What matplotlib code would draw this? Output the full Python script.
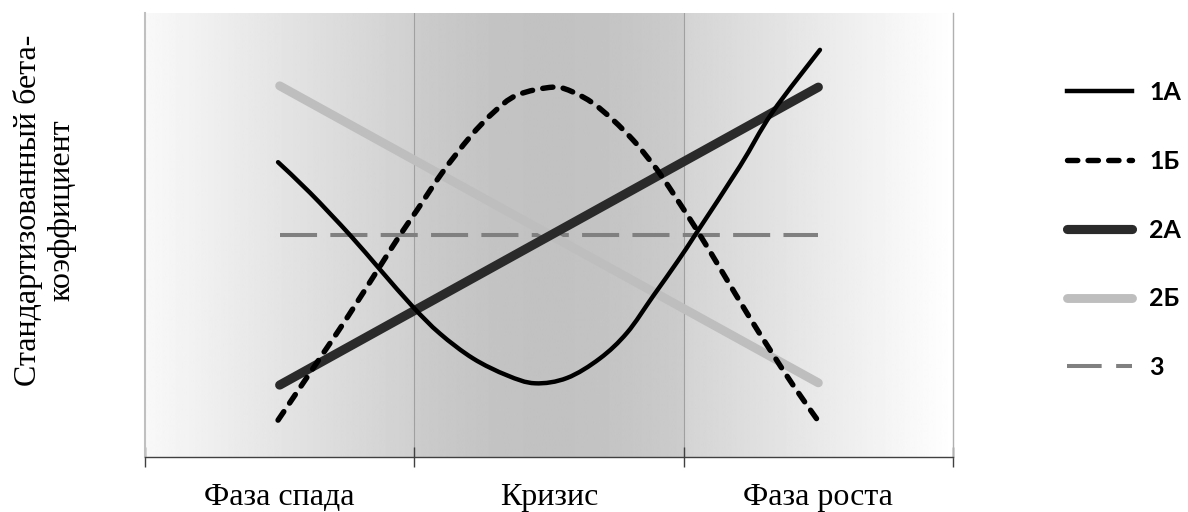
import matplotlib
matplotlib.use("Agg")
import matplotlib.pyplot as plt
import numpy as np
from matplotlib.path import Path
from matplotlib.patches import PathPatch
from matplotlib.lines import Line2D

# фазы цикла (центры панелей)
phases = ["Фаза спада", "Кризис", "Фаза роста"]
phase_pos = [0.5, 1.5, 2.5]

# 1А - сплошная кривая
x_1a = [0.494, 0.613, 0.761, 0.873, 0.995, 1.095, 1.218, 1.344, 1.448, 1.567,
        1.689, 1.790, 1.886, 1.979, 2.050, 2.209, 2.328, 2.506]
y_1a = [6.64, 5.95, 5.00, 4.22, 3.38, 2.78, 2.22, 1.84, 1.66, 1.78,
        2.22, 2.80, 3.62, 4.42, 5.07, 6.55, 7.75, 9.17]

# 1Б - пунктирная кривая
x_1b = [0.494, 0.661, 0.754, 0.873, 0.947, 1.010, 1.103, 1.207, 1.292, 1.381,
        1.515, 1.589, 1.663, 1.738, 1.812, 1.864, 1.920, 2.042, 2.146, 2.235,
        2.321, 2.406, 2.495]
y_1b = [0.83, 2.33, 3.17, 4.30, 5.00, 5.56, 6.40, 7.21, 7.75, 8.15,
        8.33, 8.22, 7.97, 7.59, 7.14, 6.76, 6.31, 5.18, 4.14, 3.24,
        2.41, 1.62, 0.85]

# 2А, 2Б, 3 - прямые
x_2a = [0.5, 2.5]
y_2a = [1.62, 8.33]
x_2b = [0.5, 2.5]
y_2b = [8.36, 1.67]
x_3 = [0.5, 2.5]
y_3 = [5.0, 5.0]


def smooth_path(xs, ys):
    # сглаженная линия как в Excel: кривые Безье через точки
    p = np.column_stack([xs, ys])
    verts = [p[0]]
    codes = [Path.MOVETO]
    for i in range(len(p) - 1):
        p0 = p[i - 1] if i > 0 else p[i]
        p3 = p[i + 2] if i + 2 < len(p) else p[i + 1]
        c1 = p[i] + (p[i + 1] - p0) / 6
        c2 = p[i + 1] - (p3 - p[i]) / 6
        verts += [c1, c2, p[i + 1]]
        codes += [Path.CURVE4] * 3
    return Path(verts, codes)


fig = plt.figure(figsize=(11.88, 5.12), dpi=100)
ax = fig.add_axes([145 / 1188, 1 - 457 / 512, 808 / 1188, 444 / 512])
ax.set_xlim(0, 3)
ax.set_ylim(0, 10)

# фон панелей - градиенты
g = np.linspace(0, 1, 256)
left_bg = 0.975 - 0.16 * g
mid_bg = 0.80 - 0.04 * np.sin(np.pi * g)
right_bg = 0.83 + 0.17 * g
for i, bg in enumerate([left_bg, mid_bg, right_bg]):
    ax.imshow(bg[np.newaxis, :], cmap="gray", vmin=0, vmax=1, aspect="auto",
              extent=(i, i + 1, 0, 10), zorder=0, interpolation="bilinear")
for xv in [1, 2]:
    ax.axvline(xv, color="#a0a0a0", lw=0.8, zorder=1)

style_1b = dict(color="black", lw=3.9, dashes=(1.9, 1.9), dash_capstyle="round")
style_2a = dict(color="#2a2a2a", lw=6.6, solid_capstyle="round")
style_2b = dict(color="#bebebe", lw=6.4, solid_capstyle="round")
style_3 = dict(color="#808080", lw=2.9, dashes=(9.2, 3.3))

ax.add_patch(PathPatch(smooth_path(x_1a, y_1a), fill=False, edgecolor="black",
                       lw=3.2, capstyle="round", zorder=5))
ax.add_patch(PathPatch(smooth_path(x_1b, y_1b), fill=False, edgecolor="black",
                       lw=3.9, linestyle=(0, (1.9, 1.9)),
                       capstyle="round", zorder=5))
ax.plot(x_2a, y_2a, zorder=4, **style_2a)
ax.plot(x_2b, y_2b, zorder=3, **style_2b)
ax.plot(x_3, y_3, zorder=2, **style_3)

handles = [
    Line2D([], [], color="black", lw=3.2),
    Line2D([], [], **style_1b),
    Line2D([], [], **style_2a),
    Line2D([], [], **style_2b),
    Line2D([], [], color="#808080", lw=2.9, dashes=(8.6, 3.6)),
]

ax.spines["top"].set_visible(False)
ax.spines["left"].set_color("#c0c0c0")
ax.spines["left"].set_linewidth(1.5)
ax.spines["right"].set_color("#b0b0b0")
ax.spines["right"].set_linewidth(1.0)
ax.spines["bottom"].set_color("#404040")
ax.spines["bottom"].set_linewidth(1.0)

ax.set_yticks([])
ax.set_xticks([0, 1, 2, 3])
ax.set_xticklabels([])
ax.tick_params(axis="x", which="major", direction="inout", length=14,
               width=1, color="#404040")
ax.set_xticks(phase_pos, minor=True)
ax.set_xticklabels(phases, minor=True, fontfamily="Liberation Serif", fontsize=23)
ax.tick_params(axis="x", which="minor", length=0, pad=19)

fig.text(45 / 1188, 1 - 210 / 512, "Стандартизованный бета-\nкоэффициент",
         rotation=90, ha="center", va="center", multialignment="center",
         fontfamily="Liberation Serif", fontsize=23, linespacing=1.2)

leg = fig.legend(handles, ["1А", "1Б", "2А", "2Б", "3"],
                 loc="center left", bbox_to_anchor=(1067 / 1188, 1 - 230 / 512),
                 frameon=False, prop={"family": "Lato", "weight": "bold", "size": 18},
                 handlelength=2.6, handletextpad=0.7, labelspacing=1.83,
                 borderpad=0, borderaxespad=0)

fig.savefig("out.png", dpi=100)
